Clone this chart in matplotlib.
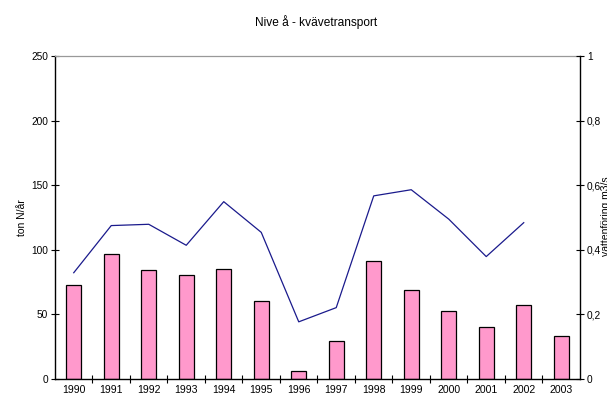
import numpy as np
import matplotlib.pyplot as plt
from matplotlib.ticker import FixedLocator, FuncFormatter

plt.rcParams['font.family'] = ['Liberation Sans', 'DejaVu Sans']

# data
years = ['1990', '1991', '1992', '1993', '1994', '1995', '1996',
         '1997', '1998', '1999', '2000', '2001', '2002', '2003']
kvave = [73, 96.5, 84.5, 80.7, 85, 60, 6, 29.7, 91, 68.7, 52.5, 40.5, 57.5, 33.5]
flode = [0.329, 0.475, 0.479, 0.414, 0.549, 0.454, 0.177, 0.221,
         0.567, 0.586, 0.495, 0.379, 0.484]

fig = plt.figure(figsize=(6.07, 4.0), dpi=100)
ax = fig.add_axes([0.0906, 0.0525, 0.8649, 0.8075])
x = np.arange(len(years))

ax.bar(x, kvave, width=0.39, color='#FF99CC', edgecolor='black', linewidth=0.9, zorder=2)
ax.set_xlim(-0.5, len(years) - 0.5)
ax.set_ylim(0, 250)
ax.set_yticks([0, 50, 100, 150, 200, 250])
ax.set_xticks(x)
ax.set_xticklabels(years)
ax.xaxis.set_minor_locator(FixedLocator(x[:-1] + 0.5))
ax.tick_params(axis='x', which='major', length=0, labelsize=7.6, pad=4)
ax.tick_params(axis='x', which='minor', direction='inout', length=6, width=0.8)
ax.tick_params(axis='y', direction='inout', length=6, width=0.8, labelsize=7.3, pad=2)
ax.set_ylabel('ton N/år', fontsize=7.5, labelpad=3)

for s in ['left', 'bottom']:
    ax.spines[s].set_linewidth(1.0)
ax.spines['right'].set_visible(False)
ax.spines['top'].set_color('#999999')
ax.spines['top'].set_linewidth(0.9)

ax2 = ax.twinx()
ax2.plot(x[:len(flode)], flode, color='#1a1a8c', linewidth=0.9, zorder=3)
ax2.set_ylim(0, 1)
ax2.set_yticks([0, 0.2, 0.4, 0.6, 0.8, 1.0])
ax2.yaxis.set_major_formatter(FuncFormatter(lambda v, p: ('%g' % round(v, 1)).replace('.', ',')))
ax2.tick_params(axis='y', direction='inout', length=6, width=0.8, labelsize=7.3, pad=2)
ax2.spines['right'].set_linewidth(1.0)
ax2.spines['top'].set_visible(False)
ax2.spines['left'].set_visible(False)
ax2.spines['bottom'].set_visible(False)

# the reference cuts this label off at the right edge
fig.text(0.99, 0.46, 'vattenföring m3/s', rotation=90, fontsize=7.5, ha='left', va='center')
fig.text(0.52, 0.945, 'Nive å - kvävetransport', fontsize=8.6, ha='center', va='center')

fig.savefig('out.png', dpi=100)
